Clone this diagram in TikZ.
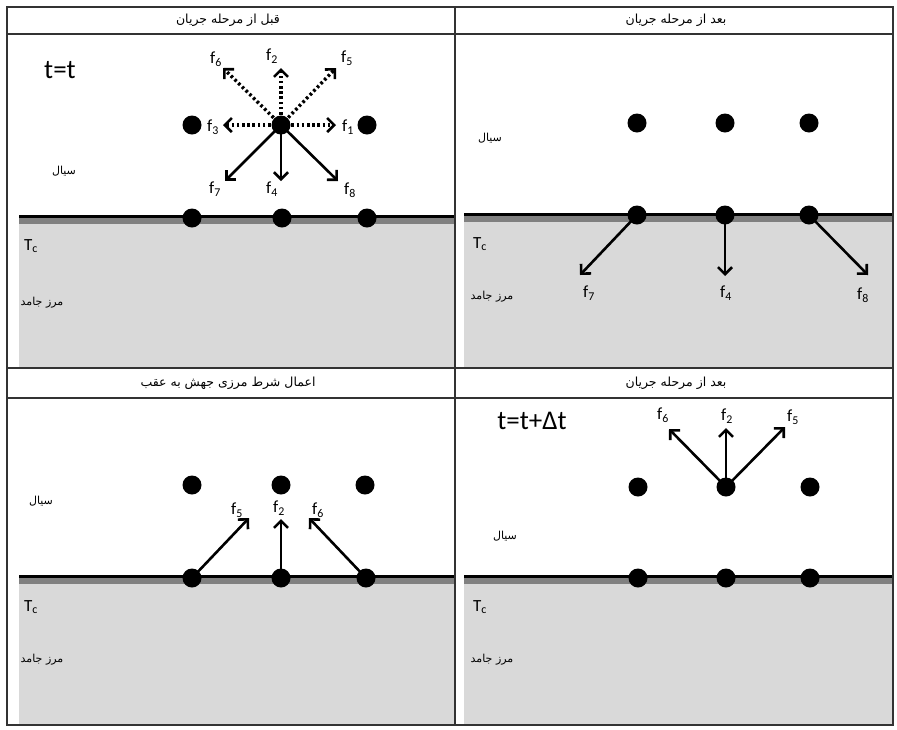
\documentclass[tikz,border=0pt]{standalone}
\usepackage{fontspec}
\setmainfont{Carlito}
\newfontfamily\arabicfont[Script=Arabic]{DejaVu Sans}
\TeXXeTstate=1
\usetikzlibrary{arrows.meta}
\definecolor{solidgray}{HTML}{D9D9D9}
\definecolor{bandgray}{HTML}{808080}
\tikzset{
  x=1pt, y=-1pt,
  dot/.style={circle, fill=black, inner sep=0pt, minimum size=19pt},
  vec/.style={line width=2.6pt, -{Straight Barb[length=7pt,width=14pt,line width=2.6pt]}},
  dvec/.style={line width=3.4pt, dash pattern=on 2.6pt off 2.6pt, -{Straight Barb[length=7pt,width=14pt,line width=2.6pt]}},
  flab/.style={font=\fontsize{17}{17}\selectfont, inner sep=0pt},
  fa/.style={font=\arabicfont\fontsize{11}{13}\selectfont, inner sep=0pt},
  head/.style={font=\arabicfont\fontsize{12.5}{14}\selectfont, inner sep=0pt},
  tc/.style={font=\fontsize{17}{17}\selectfont, inner sep=0pt},
  big/.style={font=\fontsize{27}{27}\selectfont, inner sep=0pt},
  grid/.style={line width=1.1pt, draw=black!80}
}
\begin{document}
\begin{tikzpicture}
\useasboundingbox (0,0) rectangle (897,729);
\fill[white] (0,0) rectangle (897,729);

% solid regions below the walls
\fill[solidgray] (19,217) rectangle (455,368);
\fill[solidgray] (464,215) rectangle (893,368);
\fill[solidgray] (19,577) rectangle (455,725);
\fill[solidgray] (464,577) rectangle (893,725);
\fill[bandgray] (19,217) rectangle (455,224);
\fill[bandgray] (464,215) rectangle (893,222);
\fill[bandgray] (19,577) rectangle (455,584);
\fill[bandgray] (464,577) rectangle (893,584);
\draw[line width=3pt] (19,216.5) -- (455,216.5);
\draw[line width=3pt] (464,214.5) -- (893,214.5);
\draw[line width=3pt] (19,576.5) -- (455,576.5);
\draw[line width=3pt] (464,576.5) -- (893,576.5);

% table frame
\draw[grid] (7,7) rectangle (893,725);
\draw[grid] (7,34) -- (893,34);
\draw[grid] (7,368) -- (893,368);
\draw[grid] (7,398) -- (893,398);
\draw[grid] (455,7) -- (455,725);

% headers
\node[head] (h1) at (228,20) {\beginR قبل از مرحله جریان\endR};
\node[head] (h2) at (676,20) {\beginR بعد از مرحله جریان\endR};
\node[head] (h3) at (228,383) {\beginR اعمال شرط مرزی جهش به عقب\endR};
\node[head] (h4) at (676,383) {\beginR بعد از مرحله جریان\endR};

% ---------- panel 1: before streaming ----------
\node[big] (tt) at (60,70) {t=t};
\node[fa] (s1) at (64,171) {\beginR سیال\endR};
\node[tc] (tc1) at (31,246) {T\textsubscript{c}};
\node[fa] (m1) at (42,303) {\beginR مرز جامد\endR};
\node[dot] (a1) at (192,125) {};
\node[dot] (a2) at (281,125) {};
\node[dot] (a3) at (367,125) {};
\node[dot] (b1) at (192,218) {};
\node[dot] (b2) at (282,218) {};
\node[dot] (b3) at (367,218) {};
\coordinate (p1) at (336,125);
\coordinate (p2) at (281,68);
\coordinate (p3) at (223,125);
\coordinate (p4) at (281,181);
\coordinate (p5) at (336,68);
\coordinate (p6) at (223,68);
\coordinate (p7) at (225,181);
\coordinate (p8) at (338,181);
\draw[dvec] (a2.center) -- (p1);
\draw[dvec] (a2.center) -- (p2);
\draw[dvec] (a2.center) -- (p3);
\draw[dvec] (a2.center) -- (p5);
\draw[dvec] (a2.center) -- (p6);
\draw[vec] (a2.center) -- (p4);
\draw[vec] (a2.center) -- (p7);
\draw[vec] (a2.center) -- (p8);
\node[flab] (l1) at (348,127) {f\textsubscript{1}};
\node[flab] (l2) at (272,56) {f\textsubscript{2}};
\node[flab] (l3) at (213,127) {f\textsubscript{3}};
\node[flab] (l4) at (272,189) {f\textsubscript{4}};
\node[flab] (l5) at (347,58) {f\textsubscript{5}};
\node[flab] (l6) at (216,59) {f\textsubscript{6}};
\node[flab] (l7) at (215,189) {f\textsubscript{7}};
\node[flab] (l8) at (350,190) {f\textsubscript{8}};

% ---------- panel 2: after streaming ----------
\node[fa] (s2) at (490,138) {\beginR سیال\endR};
\node[tc] (tc2) at (480,244) {T\textsubscript{c}};
\node[fa] (m2) at (492,297) {\beginR مرز جامد\endR};
\node[dot] (c1) at (637,123) {};
\node[dot] (c2) at (725,123) {};
\node[dot] (c3) at (809,123) {};
\node[dot] (d1) at (637,215) {};
\node[dot] (d2) at (725,215) {};
\node[dot] (d3) at (809,215) {};
\coordinate (q7) at (580,275);
\coordinate (q4) at (725,276);
\coordinate (q8) at (868,275);
\draw[vec] (d1.center) -- (q7);
\draw[vec] (d2.center) -- (q4);
\draw[vec] (d3.center) -- (q8);
\node[flab] (k7) at (589,293) {f\textsubscript{7}};
\node[flab] (k4) at (726,293) {f\textsubscript{4}};
\node[flab] (k8) at (863,295) {f\textsubscript{8}};

% ---------- panel 3: bounce-back ----------
\node[fa] (s3) at (41,501) {\beginR سیال\endR};
\node[tc] (tc3) at (31,607) {T\textsubscript{c}};
\node[fa] (m3) at (42,660) {\beginR مرز جامد\endR};
\node[dot] (e1) at (192,485) {};
\node[dot] (e2) at (281,485) {};
\node[dot] (e3) at (365,485) {};
\node[dot] (g1) at (192,578) {};
\node[dot] (g2) at (281,578) {};
\node[dot] (g3) at (366,578) {};
\coordinate (r5) at (249,518);
\coordinate (r2) at (281,519);
\coordinate (r6) at (309,518);
\draw[vec] (g1.center) -- (r5);
\draw[vec] (g2.center) -- (r2);
\draw[vec] (g3.center) -- (r6);
\node[flab] (n5) at (237,510) {f\textsubscript{5}};
\node[flab] (n2) at (279,508) {f\textsubscript{2}};
\node[flab] (n6) at (318,510) {f\textsubscript{6}};

% ---------- panel 4: next time step ----------
\node[big] (ttd) at (532,421) {t=t+Δt};
\node[fa] (s4) at (505,536) {\beginR سیال\endR};
\node[tc] (tc4) at (480,607) {T\textsubscript{c}};
\node[fa] (m4) at (492,660) {\beginR مرز جامد\endR};
\node[dot] (u1) at (638,487) {};
\node[dot] (u2) at (726,487) {};
\node[dot] (u3) at (810,487) {};
\node[dot] (v1) at (638,578) {};
\node[dot] (v2) at (726,578) {};
\node[dot] (v3) at (810,578) {};
\coordinate (w6) at (669,429);
\coordinate (w2) at (726,428);
\coordinate (w5) at (785,427);
\draw[vec] (u2.center) -- (w6);
\draw[vec] (u2.center) -- (w2);
\draw[vec] (u2.center) -- (w5);
\node[flab] (z6) at (663,415) {f\textsubscript{6}};
\node[flab] (z2) at (727,416) {f\textsubscript{2}};
\node[flab] (z5) at (793,417) {f\textsubscript{5}};
\end{tikzpicture}
\end{document}
